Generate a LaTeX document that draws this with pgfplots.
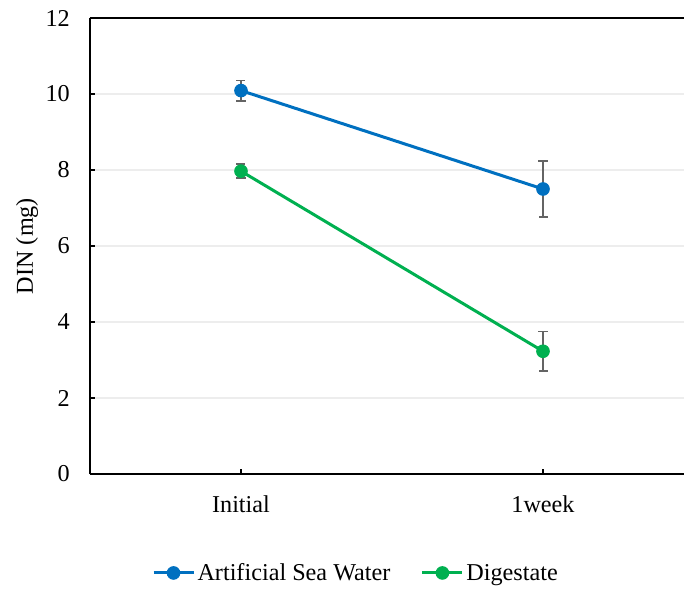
\documentclass[border=0pt]{standalone}
\usepackage{fontspec}
\setmainfont{Liberation Serif}
\usepackage{pgfplots}
\pgfplotsset{compat=1.18}
\definecolor{cblue}{HTML}{0070C0}
\definecolor{cgreen}{HTML}{00B050}
\definecolor{cerr}{HTML}{646464}
\definecolor{cgrid}{HTML}{EDEDED}
\begin{document}
\begin{tikzpicture}[font=\fontsize{24.2bp}{29bp}\selectfont]
\begin{axis}[name=ax, scale only axis, width=594bp, height=456bp,
  xmin=-0.5, xmax=1.4669, ymin=0, ymax=12,
  axis y line*=left, axis x line*=box,
  xtick={0,1}, xticklabels={Initial,1week}, ytick={0,2,...,12},
  xtick pos=left,
  tick align=inside, major tick length=5bp,
  tick style={black, line width=1.5bp},
  ymajorgrids, major grid style={cgrid, line width=1.4bp},
  axis line style={black, line width=2.2bp},
  /pgf/number format/assume math mode=true,
  yticklabel style={anchor=east, inner sep=0pt, xshift=-20bp},
  xticklabel style={anchor=base, inner sep=0pt, yshift=-38bp},
  ylabel={DIN (mg)},
  ylabel style={at={(axis description cs:-0.096,0.5)}, anchor=base, inner sep=0pt},
  legend columns=2,
  legend style={draw=none, fill=none, at={(0.1044,-0.217)}, anchor=west, inner sep=0pt, outer sep=0pt,
    nodes={inner sep=2.5bp}, /tikz/every even column/.append style={column sep=28bp}},
  legend image code/.code={\draw[mark repeat=2,mark phase=2,#1] plot coordinates {(0bp,0bp) (20bp,0bp) (40bp,0bp)};},
]
\addplot[cblue, line width=3bp, mark=*, mark size=6.3bp,
  mark options={solid, fill=cblue, draw=cblue, line width=1bp},
  error bars/.cd, y dir=both, y explicit,
  error bar style={cerr, line width=1.8bp},
  error mark options={cerr, rotate=90, mark size=4.5bp, line width=1.8bp}]
  coordinates {(0,10.09) +- (0,0.265) (1,7.50) +- (0,0.74)};
\addplot[cgreen, line width=3bp, mark=*, mark size=6.3bp,
  mark options={solid, fill=cgreen, draw=cgreen, line width=1bp},
  error bars/.cd, y dir=both, y explicit,
  error bar style={cerr, line width=1.8bp},
  error mark options={cerr, rotate=90, mark size=4.5bp, line width=1.8bp}]
  coordinates {(0,7.97) +- (0,0.18) (1,3.23) +- (0,0.52)};
\legend{Artificial Sea Water, Digestate}
\end{axis}
\pgfresetboundingbox
\path ([shift={(-90bp,-115bp)}]ax.south west) rectangle ([shift={(0bp,18bp)}]ax.north east);
\end{tikzpicture}
\end{document}
